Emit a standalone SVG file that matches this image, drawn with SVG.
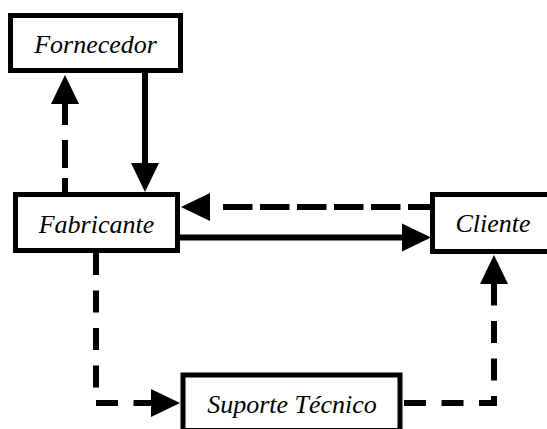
<svg xmlns="http://www.w3.org/2000/svg" xmlns:xlink="http://www.w3.org/1999/xlink" width="547" height="429" viewBox="0 0 547 429">
  <style>
    .box { fill: #ffffff; stroke: #000000; stroke-width: 5; }
    .label { font-family: 'Liberation Serif', 'Times New Roman', Times, serif; font-style: italic; font-weight: normal; font-size: 26px; fill: #000000; text-anchor: middle; }
    .wire { fill: none; stroke: #000000; stroke-width: 6; stroke-linecap: butt; stroke-linejoin: miter; }
    .dashed { stroke-dasharray: 22 15.5; }
    .head { fill: #000000; stroke: none; }
  </style>
  <defs>
    <!-- arrowhead pointing right, tip at the origin -->
    <path id="arrow" d="M0,0 L-29,-14 L-29,14 Z"/>
  </defs>

  <rect width="547" height="429" fill="#ffffff"/>

  <g id="connectors">
    <!-- Fornecedor -> Fabricante (solid) -->
    <path class="wire" d="M145,73 V164"/>
    <use class="head" xlink:href="#arrow" transform="translate(145,192) rotate(90)"/>

    <!-- Fabricante -> Fornecedor (dashed) -->
    <path class="wire" d="M65,103 V194" style="stroke-dasharray: 22 15 28 10 30"/>
    <use class="head" xlink:href="#arrow" transform="translate(65,75) rotate(-90)"/>

    <!-- Fabricante -> Cliente (solid) -->
    <path class="wire" d="M180,237.5 H402"/>
    <use class="head" xlink:href="#arrow" transform="translate(431,237.5)"/>

    <!-- Cliente -> Fabricante (dashed) -->
    <path class="wire" d="M430,207 H221.5" style="stroke-dasharray: 29.5 7.5; stroke-dashoffset: 7.5"/>
    <use class="head" xlink:href="#arrow" transform="translate(181,207) rotate(180)"/>

    <!-- Fabricante -> Suporte Técnico (dashed, elbow) -->
    <path class="wire dashed" d="M96,253 V403 H151"/>
    <use class="head" xlink:href="#arrow" transform="translate(180,403)"/>

    <!-- Suporte Técnico -> Cliente (dashed, elbow) -->
    <path class="wire dashed" d="M404,403 H494 V284"/>
    <use class="head" xlink:href="#arrow" transform="translate(494,255) rotate(-90)"/>
  </g>

  <g id="fornecedor">
    <rect class="box" x="10.5" y="15.5" width="170" height="55"/>
    <text class="label" x="95.5" y="53">Fornecedor</text>
  </g>

  <g id="fabricante">
    <rect class="box" x="15.5" y="194.5" width="162" height="56"/>
    <text class="label" x="96.5" y="233">Fabricante</text>
  </g>

  <g id="cliente">
    <rect class="box" x="432.5" y="194.5" width="121" height="57"/>
    <text class="label" x="493" y="232">Cliente</text>
  </g>

  <g id="suporte-tecnico">
    <rect class="box" x="183" y="375" width="217" height="55.5"/>
    <text class="label" x="292" y="413">Suporte Técnico</text>
  </g>
</svg>
